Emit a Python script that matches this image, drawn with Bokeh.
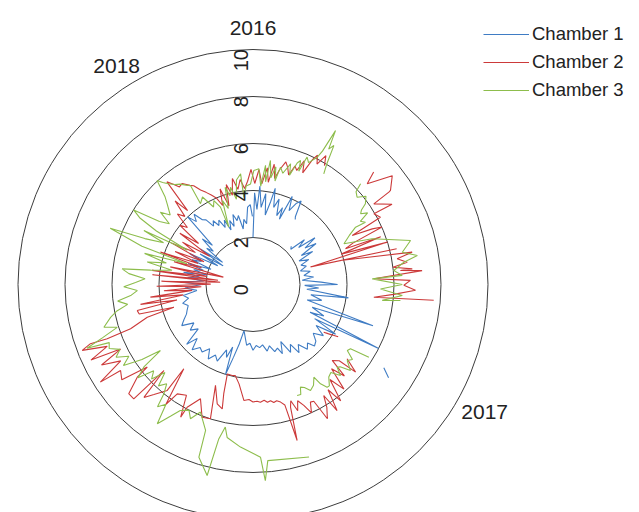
import numpy as np
from bokeh.plotting import figure
from bokeh.models import Range1d, Legend, LegendItem
from bokeh.embed import file_html
from bokeh.resources import INLINE
from bokeh.core.properties import value

nan = float("nan")

# (angle in degrees clockwise from top, value) ; (nan, nan) marks a gap in the record
ch1 = [(0, 2.0), (1, 3.9), (3, 3.2), (4, 4.2), (6, 3.3), (8, 3.9), (10, 3.0), (12, 3.6), (13, 4.2), (15, 3.4),
       (17, 3.8), (19, 3.1), (21, 3.5), (22, 3.0), (24, 4.1), (26, 3.5), (28, 3.9), (30, 4.1), (32, 3.4), (33, 3.3),
       (nan, nan),
       (45, 2.3), (47, 2.2), (49, 2.9), (51, 2.5), (53, 3.3), (55, 2.7), (57, 3.2), (59, 2.4), (61, 2.9), (63, 2.2),
       (66, 2.6), (68, 2.2), (71, 2.4), (74, 2.1), (77, 2.5), (80, 2.2), (83, 2.6), (85, 2.1), (88, 2.9), (90, 3.6),
       (91, 2.2), (93, 2.8), (95, 2.3), (98, 4.1), (100, 2.5), (103, 3.0), (106, 2.4), (109, 5.4), (111, 2.7), (114, 3.3),
       (116, 2.7), (117, 6.0), (119, 3.0), (121, 4.1), (123, 3.2), (126, 3.7), (129, 3.3), (132, 3.6), (135, 3.7), (137, 3.4),
       (140, 3.6), (143, 3.2), (146, 3.5), (148, 3.0), (151, 3.3), (154, 2.7), (157, 3.2), (159, 2.9), (162, 3.0), (165, 2.7),
       (168, 2.9), (171, 2.6), (174, 2.7), (177, 2.6), (180, 2.8), (183, 2.5), (186, 2.6), (189, 2.2), (191, 2.0), (193, 2.6),
       (195, 3.2), (197, 4.0), (198, 2.8), (200, 3.3), (202, 3.0), (205, 3.6), (208, 3.4), (211, 3.7), (214, 3.3), (217, 3.6),
       (220, 3.5), (223, 3.8), (226, 3.3), (228, 3.8), (231, 3.0), (234, 3.3), (237, 3.0), (240, 3.5), (243, 3.3), (246, 3.1),
       (249, 3.0), (252, 2.9), (255, 3.1), (258, 2.8), (261, 3.0), (264, 2.4), (267, 2.9), (270, 2.2), (272, 3.1), (274, 2.1),
       (276, 2.8), (278, 2.3), (280, 3.0), (282, 2.0), (284, 2.6), (286, 2.2), (288, 2.9), (290, 1.9), (292, 2.8), (294, 2.4),
       (296, 3.0), (298, 1.7), (300, 2.6), (302, 1.5), (304, 2.7), (306, 1.6), (308, 2.5), (310, 2.2), (312, 2.9), (314, 2.4),
       (316, 4.0), (318, 3.6), (320, 3.9), (322, 3.5), (324, 3.4), (326, 3.0), (328, 3.2), (330, 2.9), (332, 3.1), (334, 2.7),
       (336, 3.0), (338, 2.5), (340, 2.9), (342, 2.6), (344, 3.1), (346, 2.8), (348, 3.0), (350, 2.4), (352, 2.8), (354, 2.6),
       (356, 3.3), (358, 3.4), (359.5, 2.9),
       (nan, nan),
       (122.5, 6.6), (124.5, 7.0)]

ch2 = [(128.3, 5.1), (130.5, 5.74), (131.5, 4.9), (133.8, 4.67), (135, 5.5), (137, 4.9), (139, 5.9), (141, 5.2), (143, 6.2),
       (144.5, 5.5), (146.3, 6.45), (147.5, 5.6), (149, 6.1), (151, 6.53), (152.5, 5.6), (154, 5.57), (155.5, 6.0), (157.2, 5.58),
       (159, 5.3), (160.5, 5.7), (162, 5.2), (163, 5.46), (164.2, 6.9), (165.2, 5.3), (166.8, 5.14), (168.5, 5.05), (170, 5.1),
       (171.4, 5.0), (173, 5.05), (174.5, 4.95), (176.4, 5.02), (178, 4.97), (180, 5.0), (182, 4.9), (184.5, 4.95), (188, 4.27),
       (191, 3.95), (192.9, 3.97), (196, 3.96), (195, 4.81), (193.9, 5.45), (196.7, 5.3), (200.4, 4.58), (197.6, 5.99), (201, 6.05),
       (204.7, 5.35), (208.2, 5.93), (208.6, 6.43), (211, 5.5), (214.7, 5.66), (216, 6.3), (219.4, 4.64), (219, 5.8), (222, 6.3),
       (224, 6.68), (226, 5.27), (226.2, 7.03), (228.7, 7.04), (231.3, 6.31), (232, 5.71), (234, 6.9), (237, 6.72), (237.4, 7.71),
       (240, 6.5), (242, 7.3), (244, 6.27), (245, 7.61), (247, 6.74), (248.9, 7.79), (250, 7.36), (249.6, 6.62), (250.1, 5.54),
       (252.8, 4.71), (254, 3.5), (255.5, 5.0), (257.3, 5.05), (258.5, 3.3), (260, 4.86), (261.5, 3.0), (263, 4.4), (264.5, 2.6),
       (266, 3.8), (267.5, 2.2), (269, 4.1), (270.5, 1.8), (272, 3.9), (274, 1.4), (275.5, 4.3), (277, 1.5), (278, 4.33),
       (280, 2.0), (282, 3.6), (284, 1.3), (286, 3.5), (288, 2.3), (289.3, 4.17), (291, 2.5), (293, 3.6), (295, 2.3), (297, 3.9),
       (299, 2.8), (301, 3.5), (303, 2.2), (305, 3.8), (307, 2.9), (309, 4.0), (311, 3.7), (313, 4.4), (315, 4.1), (317, 4.86),
       (318.5, 4.2), (320, 5.7), (321.5, 5.45), (323, 5.2), (325, 5.25), (327.5, 5.0), (329, 4.9), (331, 4.6), (333, 4.4),
       (335, 4.2), (337, 4.0), (339, 3.6), (341, 4.3), (343, 3.5), (345, 4.4), (347, 3.9), (349, 4.6), (351, 4.1), (353, 4.5),
       (355, 4.1), (357, 4.4), (359, 4.9), (361, 4.3), (363, 4.9), (365, 4.3), (367, 5.0), (368.5, 4.4), (370, 5.2), (371.5, 4.6),
       (373, 5.0), (375, 5.4), (376.5, 5.2), (378, 4.9), (379.5, 5.35), (381, 5.2), (382.5, 5.7), (384, 5.2), (385.5, 5.9),
       (386.5, 6.15), (388, 5.8), (389.5, 6.3), (391, 5.9),
       (nan, nan),
       (47, 7.02), (48.6, 6.48), (52, 7.52), (55.6, 7.09), (55.8, 6.99), (56.3, 6.18), (60, 6.83), (59.7, 5.96), (62.2, 6.13),
       (63.7, 4.71), (65, 5.6), (66, 6.01), (67.5, 4.6), (68.9, 4.22), (69.5, 5.8), (71, 3.97), (72.5, 6.0), (73, 2.56), (76, 6.3),
       (74.7, 3.86), (78.5, 6.91), (79.9, 6.23), (81.8, 6.63), (83, 6.0), (84.4, 6.81), (84.6, 6.3), (85.3, 7.22), (87.3, 5.15),
       (88.5, 6.7), (90.3, 6.42), (92, 6.92), (94, 6.0), (96, 5.17), (95, 7.72),
       (nan, nan),
       (121.5, 4.25), (124, 3.63), (122.8, 3.95), (123.5, 3.75)]

ch3 = [(162, 7.72), (175.2, 7.52), (176.4, 8.36), (177.5, 7.36), (184.4, 6.94), (189.6, 6.6), (191, 6.18), (192.5, 6.73),
       (193.5, 8.36), (197.4, 7.7), (198, 6.53), (202.4, 5.87), (205, 6.3), (207, 6.0), (210, 6.19), (212, 6.6), (214.5, 7.19),
       (216, 6.3), (218, 6.6), (219.2, 6.0), (221, 5.6), (223, 5.9), (225, 5.3), (227, 5.9), (229, 5.6), (231, 6.3), (233, 5.8),
       (234.5, 4.84), (236, 5.7), (238, 6.5), (240, 6.1), (242, 6.6), (244, 6.3), (246, 6.7), (248, 6.6), (249, 7.57), (250.5, 6.8),
       (252.5, 6.06), (254, 6.6), (257, 6.22), (259, 5.9), (261, 5.4), (263, 5.8), (265, 5.2), (267, 4.93), (269, 5.5), (271, 5.0),
       (273, 4.6), (275, 5.3), (276.8, 5.61), (278, 4.4), (280, 3.5), (282, 4.6), (284, 3.8), (286, 4.8), (287.5, 2.94), (289, 5.0),
       (291.5, 6.53), (293, 5.0), (295, 4.2), (296.3, 5.18), (297.5, 3.15), (299, 4.7), (300.5, 5.6), (302, 5.99), (304, 4.8),
       (306, 4.4), (308, 5.0), (310, 4.6), (313.2, 5.01), (315, 5.3), (317.3, 6.02), (318.5, 5.8), (320, 5.6), (322, 5.4),
       (324, 5.28), (326, 5.1), (327.7, 4.98), (327, 4.1), (330, 4.3), (333, 3.7), (335, 3.94), (337.2, 3.57), (337.1, 2.65),
       (340, 3.8), (342, 3.4), (344, 4.3), (345.5, 3.9), (347, 4.25), (349, 3.7), (351, 4.5), (353.6, 4.74), (354, 3.73),
       (356, 4.2), (358.6, 4.28), (360.4, 4.85), (362.9, 4.93), (364.5, 4.2), (366, 5.1), (367, 4.4), (368, 5.33), (369.5, 4.6),
       (371, 5.1), (372, 4.5), (373.2, 5.13), (375, 4.9), (377.3, 5.38), (378.5, 4.9), (380, 5.5), (381, 5.65), (382, 5.2),
       (383, 5.89), (384.5, 5.7), (386.8, 6.07), (387.5, 6.4), (388.2, 7.43), (389.2, 6.6), (390.2, 6.84), (391.5, 6.0), (392.6, 5.59),
       (nan, nan),
       (46.9, 6.27), (48, 5.9), (50, 5.78), (52, 6.1), (54.3, 5.89), (55.5, 5.6), (56.7, 5.48), (58, 5.75), (59.5, 5.3), (61, 5.47),
       (60.8, 5.0), (63, 4.6), (65.9, 4.24), (69, 5.43), (74.4, 6.96), (77.8, 6.5), (80, 7.1), (81.6, 6.49), (84.3, 6.02),
       (86.5, 6.36), (87.3, 5.08), (90, 6.35), (92, 5.43), (94.2, 6.37), (97, 5.54), (96.2, 6.31),
       (nan, nan),
       (122.1, 5.82), (123.4, 4.97), (125, 4.9), (127, 5.3), (128.9, 5.15), (131.4, 5.53), (133.4, 5.1), (134.5, 5.02),
       (136.1, 5.37), (138.5, 5.0), (140.7, 5.09), (143, 5.4), (144.2, 5.39), (145.8, 5.11), (146.7, 4.72), (149, 5.0),
       (151.5, 5.13), (153.5, 4.9), (155.2, 4.81), (156.5, 5.1), (158.3, 5.08)]

series_names = ["Chamber 1", "Chamber 2", "Chamber 3"]
series_colors = ["#3f7cc4", "#cc3a3a", "#8dbd4c"]

r_ticks = [0, 2, 4, 6, 8, 10]
r_tick_labels = ["0", "2", "4", "6", "8", "10"]

years = ["2016", "2017", "2018"]
year_theta = [0.0, 118.8, 328.0]
year_r = [10.91, 11.25, 10.95]


def to_xy(theta_deg, r):
    th = np.radians(np.asarray(theta_deg, dtype=float))
    rr = np.asarray(r, dtype=float)
    return rr * np.sin(th), rr * np.cos(th)


p = figure(width=639, height=512,
           x_range=Range1d(-10.745, 16.447), y_range=Range1d(-9.702, 12.085),
           output_backend="svg", toolbar_location=None,
           x_axis_location=None, y_axis_location=None, min_border=0)
p.outline_line_color = None
p.grid.visible = False
p.background_fill_color = "white"
p.border_fill_color = "white"

# grid circles
rings = r_ticks[1:]
p.circle(x=[0] * len(rings), y=[0] * len(rings), radius=rings,
         fill_color=None, line_color="#3c3c3c", line_width=1)

renderers = []
for pts, name, col in zip([ch1, ch2, ch3], series_names, series_colors):
    th = [a for a, _ in pts]
    rv = [b for _, b in pts]
    x, y = to_xy(th, rv)
    r = p.line(x, y, line_color=col, line_width=1.1)
    renderers.append(r)

# radial tick labels (rotated)
p.text(x=[-0.49] * len(r_ticks), y=[t + 0.02 for t in r_ticks], text=r_tick_labels,
       angle=np.pi / 2, text_align="right", text_baseline="middle",
       text_font=value("Liberation Sans"), text_font_size="20px", text_color="#222222")

# year labels
yx, yy = to_xy(year_theta, year_r)
p.text(x=list(yx), y=list(yy), text=years, text_align="center", text_baseline="middle",
       text_font=value("Liberation Sans"), text_font_size="21px", text_color="#222222")

legend = Legend(items=[LegendItem(label=n, renderers=[r]) for n, r in zip(series_names, renderers)],
                location=(483, 411), orientation="vertical",
                border_line_color=None, background_fill_alpha=0,
                padding=0, margin=0, spacing=6,
                glyph_width=46, glyph_height=22, label_height=22, label_standoff=3,
                label_text_font="Liberation Sans", label_text_font_size="18.5px",
                label_text_color="#222222")
p.add_layout(legend, "center")

open("out.html", "w").write(file_html(p, INLINE))
